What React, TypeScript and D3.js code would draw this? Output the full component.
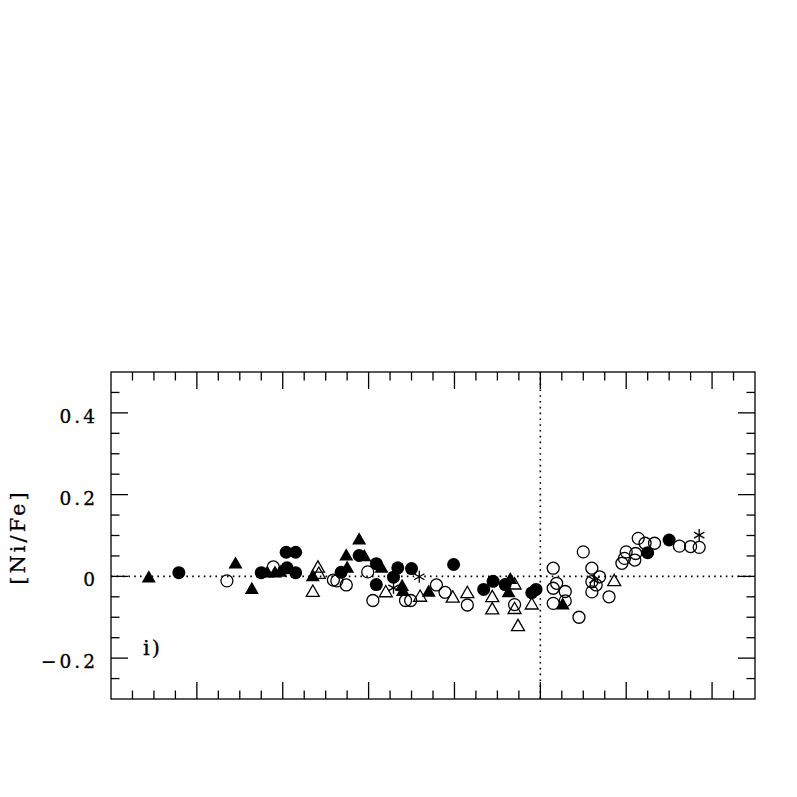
import React from "react";
import * as d3 from "d3";

// Data (x in arbitrary axis units, y = [Ni/Fe])
const filledCircles: [number, number][] = [
  [-4.21, 0.009], [-3.25, 0.009], [-2.96, 0.059], [-2.85, 0.059], [-2.95, 0.021],
  [-2.85, 0.009], [-2.32, 0.01], [-2.11, 0.051], [-1.91, 0.031], [-1.91, -0.02],
  [-1.71, -0.002], [-1.66, 0.021], [-1.5, 0.019], [-1.01, 0.029], [-0.66, -0.032],
  [-0.55, -0.012], [-0.41, -0.02], [-0.1, -0.04], [-0.05, -0.032], [1.25, 0.058],
  [1.5, 0.089],
];
const filledTriangles: [number, number][] = [
  [-4.56, 0.0], [-3.55, 0.034], [-3.36, -0.028], [-3.18, 0.012], [-3.09, 0.012],
  [-3.03, 0.014], [-2.65, 0.003], [-2.25, 0.024], [-2.26, 0.054], [-2.11, 0.093],
  [-2.05, 0.052], [-1.85, 0.024], [-1.61, -0.021], [-1.6, -0.033], [-1.3, -0.035],
  [-0.35, -0.004], [-0.37, -0.036], [0.26, -0.066],
];
const openCircles: [number, number][] = [
  [-3.65, -0.011], [-3.11, 0.023], [-2.41, -0.009], [-2.37, -0.011], [-2.26, -0.021],
  [-2.01, 0.011], [-1.95, -0.059], [-1.57, -0.059], [-1.51, -0.059], [-1.21, -0.021],
  [-1.11, -0.039], [-0.85, -0.07], [-0.3, -0.069], [0.15, 0.02], [0.19, -0.017],
  [0.15, -0.029], [0.15, -0.066], [0.29, -0.037], [0.29, -0.06], [0.45, -0.1],
  [0.5, 0.06], [0.6, 0.02], [0.6, -0.013], [0.69, -0.001], [0.65, -0.021],
  [0.6, -0.038], [0.8, -0.05], [0.95, 0.032], [0.98, 0.044], [1.0, 0.06],
  [1.1, 0.04], [1.11, 0.056], [1.14, 0.093], [1.22, 0.081], [1.33, 0.081],
  [1.62, 0.074], [1.75, 0.073], [1.85, 0.071],
];
const openTriangles: [number, number][] = [
  [-2.59, 0.024], [-2.58, 0.009], [-2.65, -0.035], [-1.8, -0.036], [-1.4, -0.047],
  [-1.02, -0.049], [-0.85, -0.038], [-0.56, -0.048], [-0.56, -0.078], [-0.3, -0.017],
  [-0.3, -0.077], [-0.26, -0.119], [-0.1, -0.066], [0.86, -0.009],
];
const asterisks: [number, number][] = [
  [-1.71, -0.028], [-1.41, -0.001], [0.63, -0.009], [1.85, 0.101],
];
const yTickLabels: [number, string][] = [
  [0.4, "0.4"], [0.2, "0.2"], [0, "0"], [-0.2, "\u22120.2"],
];
const xDomain: [number, number] = [-5, 2.5];
const yDomain: [number, number] = [-0.3, 0.5];

const L = 111, R = 755, T = 372, B = 699;
const x = d3.scaleLinear().domain(xDomain).range([L, R]);
const y = d3.scaleLinear().domain(yDomain).range([B, T]);

const MAJ = 17, MIN = 8.5;
const SW = 1.3;

function triPath(cx: number, cy: number, s: number) {
  const h = s * 0.87;
  return `M${cx - s / 2},${cy + h / 2}L${cx + s / 2},${cy + h / 2}L${cx},${cy - h / 2}Z`;
}

export default function App() {
  const xTicks = d3.range(xDomain[0], xDomain[1] + 1e-9, 0.25);
  const yTicks = d3.range(-0.3, 0.5 + 1e-9, 0.05);
  const isMajorX = (v: number) => Math.abs(v - Math.round(v)) < 1e-6;
  const isMajorY = (v: number) => Math.abs(v / 0.2 - Math.round(v / 0.2)) < 1e-6;
  const font = "'DejaVu Serif', serif";
  const ls = 3;

  return (
    <svg width={797} height={797} style={{ position: "absolute", left: 0, top: 0, background: "#fff" }}>
      {/* dotted reference lines */}
      <line x1={L} x2={R} y1={y(0)} y2={y(0)} stroke="#000" strokeWidth={1.6} strokeDasharray="1.6,4.2" />
      <line x1={x(0)} x2={x(0)} y1={T} y2={B} stroke="#000" strokeWidth={1.6} strokeDasharray="1.6,4.2" />

      {/* frame */}
      <rect x={L} y={T} width={R - L} height={B - T} fill="none" stroke="#000" strokeWidth={SW} />

      {/* x ticks top & bottom */}
      {xTicks.map((v, i) => {
        const len = isMajorX(v) ? MAJ : MIN;
        const px = x(v);
        if (px <= L + 0.5 || px >= R - 0.5) return null;
        return (
          <g key={"xt" + i}>
            <line x1={px} x2={px} y1={B} y2={B - len} stroke="#000" strokeWidth={SW} />
            <line x1={px} x2={px} y1={T} y2={T + len} stroke="#000" strokeWidth={SW} />
          </g>
        );
      })}
      {/* y ticks left & right */}
      {yTicks.map((v, i) => {
        const len = isMajorY(v) ? MAJ : MIN;
        const py = y(v);
        if (py <= T + 0.5 || py >= B - 0.5) return null;
        return (
          <g key={"yt" + i}>
            <line x1={L} x2={L + len} y1={py} y2={py} stroke="#000" strokeWidth={SW} />
            <line x1={R} x2={R - len} y1={py} y2={py} stroke="#000" strokeWidth={SW} />
          </g>
        );
      })}
      {/* y tick labels */}
      {yTickLabels.map(([v, s]) => (
        <text key={"yl" + s} x={95 + ls} y={y(v) + 10} textAnchor="end" fontFamily={font}
          fontSize={18.5} letterSpacing={ls} stroke="#000" strokeWidth={0.3}>{s}</text>
      ))}
      {/* y axis title */}
      <text transform={`translate(25,537) rotate(-90)`} textAnchor="middle" fontFamily={font}
        fontSize={21} letterSpacing={3} stroke="#000" strokeWidth={0.3}>[Ni/Fe]</text>
      {/* panel label */}
      <text x={143} y={655} fontFamily={font} fontSize={21} letterSpacing={2}
        stroke="#000" strokeWidth={0.3}>i)</text>

      {/* markers */}
      {openCircles.map(([a, b], i) => (
        <circle key={"oc" + i} cx={x(a)} cy={y(b)} r={6} fill="none" stroke="#000" strokeWidth={SW} />
      ))}
      {openTriangles.map(([a, b], i) => (
        <path key={"ot" + i} d={triPath(x(a), y(b), 13)} fill="none" stroke="#000" strokeWidth={SW} />
      ))}
      {filledCircles.map(([a, b], i) => (
        <circle key={"fc" + i} cx={x(a)} cy={y(b)} r={6.5} fill="#000" />
      ))}
      {filledTriangles.map(([a, b], i) => (
        <path key={"ft" + i} d={triPath(x(a), y(b), 14)} fill="#000" />
      ))}
      {asterisks.map(([a, b], i) => {
        const cx = x(a), cy = y(b), r = 6;
        const angs = [90, 30, -30];
        return (
          <g key={"as" + i}>
            {angs.map((ang) => {
              const dx = r * Math.cos((ang * Math.PI) / 180);
              const dy = r * Math.sin((ang * Math.PI) / 180);
              return <line key={ang} x1={cx - dx} y1={cy - dy} x2={cx + dx} y2={cy + dy} stroke="#000" strokeWidth={SW} />;
            })}
          </g>
        );
      })}
    </svg>
  );
}
